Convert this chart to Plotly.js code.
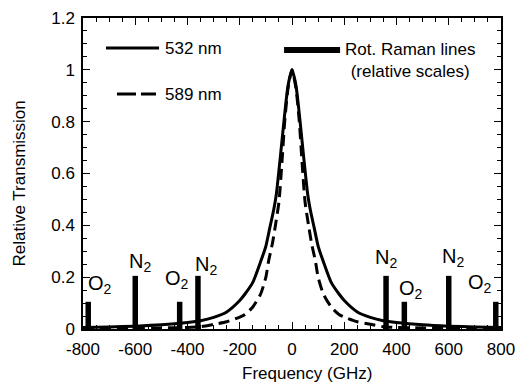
<!DOCTYPE html>
<html>
<head>
<meta charset="utf-8">
<script src="https://cdn.plot.ly/plotly-3.0.1.min.js"></script>
<style>html,body{margin:0;padding:0;background:#fff;}#chart{width:515px;height:383px;}</style>
</head>
<body>
<div id="chart"></div>
<script>
// 532 nm filter transmission (solid)
var freq532 = [-800,-700,-600,-500,-400,-350,-300,-250,-200,-180,-150,-120,-100,-85,-70,-60,-45,-30,-15,0,15,30,45,60,70,85,100,120,150,180,200,250,300,350,400,500,600,700,800];
var trans532 = [0.006,0.008,0.011,0.016,0.025,0.032,0.045,0.066,0.11,0.135,0.18,0.26,0.32,0.39,0.46,0.52,0.66,0.81,0.94,1.0,0.94,0.81,0.66,0.52,0.46,0.39,0.32,0.26,0.18,0.135,0.11,0.066,0.045,0.032,0.025,0.016,0.011,0.008,0.006];
// 589 nm filter transmission (dashed)
var freq589 = [-800,-700,-600,-500,-400,-350,-300,-250,-200,-180,-150,-120,-100,-90,-75,-65,-50,-38,-28,-15,0,15,28,38,50,65,75,90,100,120,150,180,200,250,300,350,400,500,600,700,800];
var trans589 = [0.002,0.002,0.003,0.004,0.006,0.009,0.018,0.028,0.046,0.056,0.085,0.135,0.2,0.26,0.33,0.39,0.49,0.65,0.8,0.93,1.0,0.93,0.8,0.65,0.49,0.39,0.33,0.26,0.2,0.135,0.085,0.056,0.046,0.028,0.018,0.009,0.006,0.004,0.003,0.002,0.002];
// Rotational Raman lines (relative scales)
var ramanFreq = [-780,-600,-430,-360,360,430,600,780];
var ramanHeight = [0.105,0.205,0.105,0.205,0.205,0.105,0.205,0.105];
var ramanLabel = ['O<sub>2</sub>','N<sub>2</sub>','O<sub>2</sub>','N<sub>2</sub>','N<sub>2</sub>','O<sub>2</sub>','N<sub>2</sub>','O<sub>2</sub>'];
// Tick labels
var xTickVals = [-800,-600,-400,-200,0,200,400,600,800];
var xTickText = ['-800','-600','-400','-200','0','200','400','600','800'];
var yTickVals = [0,0.2,0.4,0.6,0.8,1,1.2];
var yTickText = ['0','0.2','0.4','0.6','0.8','1','1.2'];

var labelShiftX = [12,5,-3,8,0,7,4,-16];
var labelShiftY = [4,0,9,-3,4,-1,5,5];

var FONT = 'Liberation Sans, Arial, Helvetica, sans-serif';

var traces = [
  {x: freq532, y: trans532, type: 'scatter', mode: 'lines', name: '532 nm',
   line: {color: '#000', width: 3, shape: 'spline', smoothing: 0.6}, showlegend: false, hoverinfo: 'skip'},
  {x: freq589, y: trans589, type: 'scatter', mode: 'lines', name: '589 nm',
   line: {color: '#000', width: 3, dash: '11px,6px', shape: 'spline', smoothing: 0.6}, showlegend: false, hoverinfo: 'skip'},
  {x: ramanFreq, y: ramanHeight, type: 'bar', name: 'Rot. Raman lines', width: 21,
   marker: {color: '#000', line: {width: 0}}, showlegend: false, hoverinfo: 'skip'}
];

var annotations = [];
for (var i = 0; i < ramanFreq.length; i++) {
  annotations.push({x: ramanFreq[i], y: ramanHeight[i], xref: 'x', yref: 'y', text: ramanLabel[i],
    showarrow: false, xanchor: 'center', yanchor: 'bottom', xshift: labelShiftX[i], yshift: labelShiftY[i],
    font: {family: FONT, size: 20, color: '#000'}, borderpad: 0});
}
annotations.push({x: 0.1914, y: 0.9035, xref: 'paper', yref: 'paper', text: '532 nm', showarrow: false,
  xanchor: 'left', yanchor: 'middle', font: {family: FONT, size: 17, color: '#000'}});
annotations.push({x: 0.1914, y: 0.7556, xref: 'paper', yref: 'paper', text: '589 nm', showarrow: false,
  xanchor: 'left', yanchor: 'middle', font: {family: FONT, size: 17, color: '#000'}});
annotations.push({x: 0.782, y: 0.863, xref: 'paper', yref: 'paper', text: 'Rot. Raman lines<br>(relative scales)', showarrow: false,
  xanchor: 'center', yanchor: 'middle', align: 'center', font: {family: FONT, size: 17, color: '#000'}});
// axis titles
annotations.push({x: 0.536, y: -0.1415, xref: 'paper', yref: 'paper', text: 'Frequency (GHz)', showarrow: false,
  xanchor: 'center', yanchor: 'middle', font: {family: FONT, size: 17, color: '#000'}});
annotations.push({x: -0.153, y: 0.468, xref: 'paper', yref: 'paper', text: 'Relative Transmission', showarrow: false,
  textangle: -90, xanchor: 'center', yanchor: 'middle', font: {family: FONT, size: 17, color: '#000'}});

var shapes = [
  {type: 'line', xref: 'paper', yref: 'paper', x0: 0.055, x1: 0.182, y0: 0.9035, y1: 0.9035, line: {color: '#000', width: 3}},
  {type: 'line', xref: 'paper', yref: 'paper', x0: 0.0813, x1: 0.1746, y0: 0.7556, y1: 0.7556, line: {color: '#000', width: 3, dash: '19px,5px'}},
  {type: 'line', xref: 'paper', yref: 'paper', x0: 0.481, x1: 0.615, y0: 0.897, y1: 0.897, line: {color: '#000', width: 6}}
];

var layout = {
  width: 515, height: 383,
  margin: {l: 83, r: 14, t: 18, b: 54},
  font: {family: FONT, size: 17, color: '#000'},
  showlegend: false,
  xaxis: {
    range: [-800, 800], tickmode: 'array', tickvals: xTickVals, ticktext: xTickText,
    ticks: 'inside', ticklen: 6, tickwidth: 1, tickcolor: 'black', layer: 'above traces',
    minor: {dtick: 50, ticks: 'inside', ticklen: 4, tickwidth: 1, tickcolor: 'black'},
    showline: true, linecolor: 'black', linewidth: 1.5, mirror: 'allticks',
    showgrid: false, zeroline: false, ticklabeloverflow: 'allow', ticklabelstandoff: 4
  },
  yaxis: {
    range: [0, 1.2], tickmode: 'array', tickvals: yTickVals, ticktext: yTickText,
    ticks: 'inside', ticklen: 6, tickwidth: 1, tickcolor: 'black', layer: 'above traces',
    minor: {dtick: 0.05, ticks: 'inside', ticklen: 4, tickwidth: 1, tickcolor: 'black'},
    showline: true, linecolor: 'black', linewidth: 1.5, mirror: 'allticks',
    showgrid: false, zeroline: false, ticklabeloverflow: 'allow', ticklabelstandoff: 3
  },
  annotations: annotations,
  shapes: shapes
};

Plotly.newPlot('chart', traces, layout, {displayModeBar: false}).then(function(gd){
  return Plotly.relayout(gd, {'xaxis.ticklen': 7, 'yaxis.ticklen': 7});
});
</script>
</body>
</html>
